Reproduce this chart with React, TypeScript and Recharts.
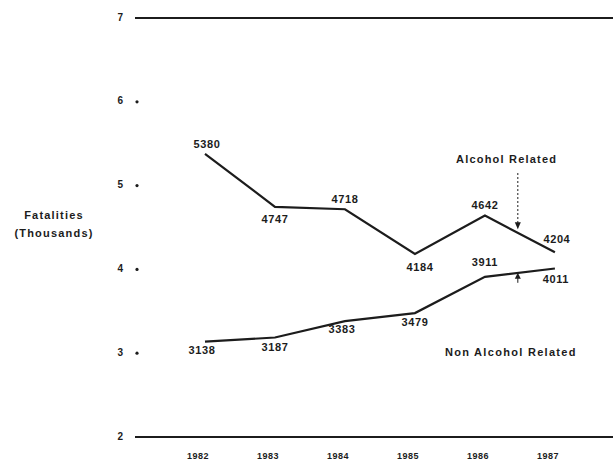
import { LineChart, Line, XAxis, YAxis, ReferenceLine, ReferenceDot, LabelList } from "recharts";

const years = [1982, 1983, 1984, 1985, 1986, 1987];
const alcoholRelated = [5380, 4747, 4718, 4184, 4642, 4204];
const nonAlcoholRelated = [3138, 3187, 3383, 3479, 3911, 4011];
const yTicks = [2, 3, 4, 5, 6, 7];

// where each value label sits relative to its point
const alcoholLabelOffsets = [[2, -9], [0, 13], [0, -9], [5, 14], [0, -10], [2, -12]];
const nonAlcoholLabelOffsets = [[-3, 9], [0, 11], [-3, 9], [0, 10], [0, -14], [1, 12]];

const data = years.map((year, i) => ({
    year,
    alcohol: alcoholRelated[i] / 1000,
    nonAlcohol: nonAlcoholRelated[i] / 1000,
}));

const ink = "#1c1c1c";
const font = "'Liberation Sans', Arial, sans-serif";

const makeLabel = (values: number[], offsets: number[][]) => (props: any) => {
    const { x, y, index } = props;
    const [dx, dy] = offsets[index];
    return (
        <text x={x + dx} y={y + dy} textAnchor="middle" dominantBaseline="middle"
            fontFamily={font} fontSize={11} fontWeight="bold" letterSpacing={0.6} fill={ink}>
            {values[index]}
        </text>
    );
};

const YTick = (props: any) => {
    const { y, payload } = props;
    const v = payload.value;
    return (
        <g>
            <text x={123} y={y} textAnchor="end" dominantBaseline="middle"
                fontFamily={font} fontSize={10} fontWeight="bold" fill={ink}>{v}</text>
            {v !== 2 && v !== 7 && <circle cx={137} cy={y} r={1.6} fill={ink} />}
        </g>
    );
};

const XTick = (props: any) => {
    const { x, y, payload } = props;
    return (
        <text x={x - 7} y={y + 12} textAnchor="middle" dominantBaseline="middle"
            fontFamily={font} fontSize={9} fontWeight="bold" letterSpacing={0.5} fill={ink}>{payload.value}</text>
    );
};

const DownHead = (props: any) => (
    <path d={`M${props.cx - 3},${props.cy - 7} L${props.cx + 3},${props.cy - 7} L${props.cx},${props.cy} Z`} fill={ink} />
);
const UpHead = (props: any) => (
    <path d={`M${props.cx - 3},${props.cy + 6} L${props.cx + 3},${props.cy + 6} L${props.cx},${props.cy} Z`} fill={ink} />
);

const textLabel = (text: string, spacing: number) => (props: any) => {
    const vb = props.viewBox;
    return (
        <text x={vb.x + (vb.width || 0) / 2} y={vb.y + (vb.height || 0) / 2} textAnchor="middle" dominantBaseline="middle"
            fontFamily={font} fontSize={11} fontWeight="bold" letterSpacing={spacing} fill={ink}>{text}</text>
    );
};

export default function App() {
    return (
        <div style={{ position: "absolute", left: 0, top: 0, width: 613, height: 466, background: "#fff" }}>
            <div style={{ position: "absolute", left: 4, top: 206, width: 100, textAlign: "center",
                fontFamily: font, fontSize: 11, fontWeight: "bold", letterSpacing: 1.2, color: ink, lineHeight: "18px" }}>
                Fatalities<br />(Thousands)
            </div>
            <LineChart width={613} height={466} data={data} margin={{ top: 18, right: 0, bottom: 0, left: 0 }}>
                <XAxis dataKey="year" type="number" domain={[1981, 1987.83]} ticks={years}
                    axisLine={false} tickLine={false} height={29} tick={<XTick />} interval={0} />
                <YAxis type="number" domain={[2, 7]} ticks={yTicks} width={135}
                    axisLine={false} tickLine={false} tick={<YTick />} interval={0} />
                <ReferenceLine y={7} stroke={ink} strokeWidth={2} />
                <ReferenceLine y={2} stroke={ink} strokeWidth={2} />
                <Line dataKey="alcohol" stroke={ink} strokeWidth={2.2} dot={false} isAnimationActive={false}>
                    <LabelList dataKey="alcohol" content={makeLabel(alcoholRelated, alcoholLabelOffsets)} />
                </Line>
                <Line dataKey="nonAlcohol" stroke={ink} strokeWidth={2.2} dot={false} isAnimationActive={false}>
                    <LabelList dataKey="nonAlcohol" content={makeLabel(nonAlcoholRelated, nonAlcoholLabelOffsets)} />
                </Line>
                <ReferenceLine segment={[{ x: 1986.47, y: 5.15 }, { x: 1986.47, y: 4.55 }]} stroke={ink}
                    strokeWidth={1} strokeDasharray="2 2" />
                <ReferenceDot x={1986.47} y={4.48} r={0} shape={<DownHead />} />
                <ReferenceLine segment={[{ x: 1986.47, y: 3.84 }, { x: 1986.47, y: 3.92 }]} stroke={ink} strokeWidth={1} />
                <ReferenceDot x={1986.47} y={3.96} r={0} shape={<UpHead />} />
                <ReferenceDot x={1986.31} y={5.31} r={0} label={textLabel("Alcohol Related", 1.2)} />
                <ReferenceDot x={1986.37} y={3.0} r={0} label={textLabel("Non Alcohol Related", 1.3)} />
            </LineChart>
        </div>
    );
}
